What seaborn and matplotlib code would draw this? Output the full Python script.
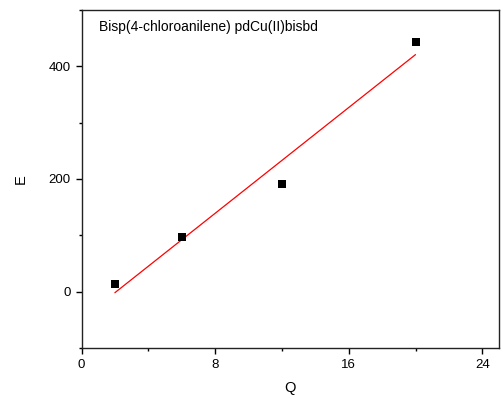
import numpy as np
import pandas as pd
import matplotlib
matplotlib.use("Agg")
import matplotlib.pyplot as plt
from matplotlib.ticker import MultipleLocator
import seaborn as sns

# data
q_values = [2, 6, 12, 20]
e_values = [13, 97, 191, 443]
label = "Bisp(4-chloroanilene) pdCu(II)bisbd"

data = pd.DataFrame({"Q": q_values, "E": e_values})

sns.set_style("ticks")
plt.rcParams["font.family"] = ["Liberation Sans", "DejaVu Sans"]
plt.rcParams["text.color"] = "black"
plt.rcParams["axes.labelcolor"] = "black"
plt.rcParams["xtick.color"] = "black"
plt.rcParams["ytick.color"] = "black"

fig = plt.figure(figsize=(5.03, 3.99), dpi=100)
ax = fig.add_axes([81.5 / 503, 1 - 348 / 399, (499 - 81.5) / 503, (348 - 10) / 399])

# linear fit line
sns.regplot(x="Q", y="E", data=data, ax=ax, ci=None, scatter=False,
            truncate=True, line_kws={"color": "red", "lw": 0.9})
sns.scatterplot(x="Q", y="E", data=data, ax=ax, marker="s", s=26,
                color="black", edgecolor="black", linewidth=0, zorder=3)

ax.set_xlim(0, 25)
ax.set_ylim(-100, 500)
ax.xaxis.set_major_locator(MultipleLocator(8))
ax.xaxis.set_minor_locator(MultipleLocator(4))
ax.yaxis.set_major_locator(MultipleLocator(200))
ax.yaxis.set_minor_locator(MultipleLocator(100))
ax.tick_params(which="major", direction="out", length=4, width=1, labelsize=9.5, pad=4)
ax.tick_params(which="minor", direction="out", length=2.5, width=1)
for sp in ax.spines.values():
    sp.set_visible(True)
    sp.set_linewidth(1)
    sp.set_color("#222222")

ax.set_xlabel("Q", fontsize=10.5)
ax.set_ylabel("E", fontsize=10.5)
ax.xaxis.set_label_coords(0.5, -0.098)
ax.yaxis.set_label_coords(-0.128, 0.5)
ax.text(0.043, 0.95, label, transform=ax.transAxes, fontsize=10,
        ha="left", va="center")

fig.savefig("out.png", dpi=100)
